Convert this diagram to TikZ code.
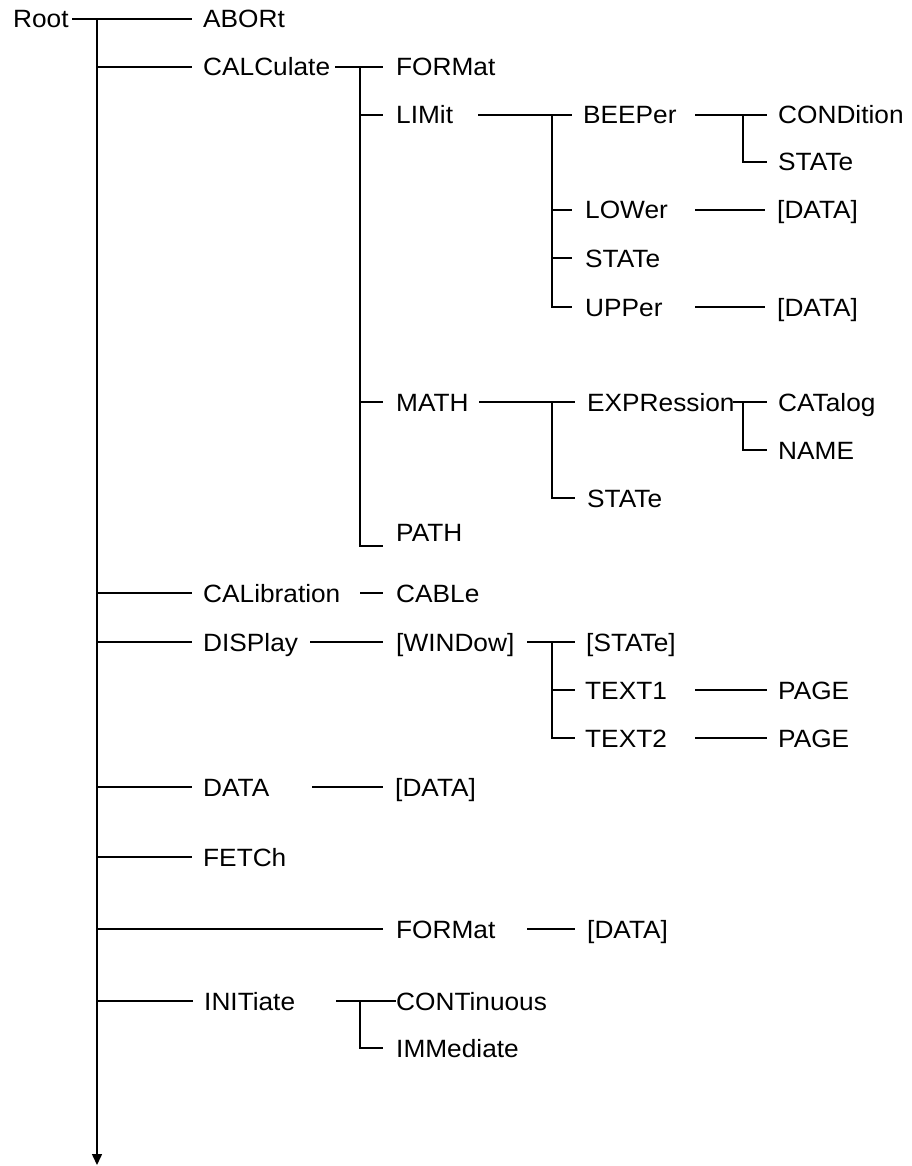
\documentclass[tikz,border=0pt]{standalone}
\usepackage{fontspec}
\setmainfont[FakeStretch=1.05]{Liberation Sans}
\usetikzlibrary{arrows.meta}
\newcommand\lblfont{\fontsize{25}{30}\selectfont}
\begin{document}
\begin{tikzpicture}[x=1pt,y=-1pt,
  lbl/.style={anchor=west,inner sep=0pt,text height=18pt,text depth=0pt,font=\lblfont},
  ln/.style={line width=1.5pt}]
\useasboundingbox (0,0) rectangle (911,1166);
% ---- labels ----
\node[lbl] (root)    at (13,19)   {Root};
\node[lbl] (abort)   at (203,19)  {ABORt};
\node[lbl] (calc)    at (203,67)  {CALCulate};
\node[lbl] (fmt1)    at (396,67)  {FORMat};
\node[lbl] (limit)   at (396,115) {LIMit};
\node[lbl] (beeper)  at (583,115) {BEEPer};
\node[lbl] (cond)    at (778,115) {CONDition};
\node[lbl] (state1)  at (778,162) {STATe};
\node[lbl] (lower)   at (585,210) {LOWer};
\node[lbl] (data1)   at (777,210) {[DATA]};
\node[lbl] (state2)  at (585,258) {STATe};
\node[lbl] (upper)   at (585,307) {UPPer};
\node[lbl] (data2)   at (777,307) {[DATA]};
\node[lbl] (math)    at (396,402) {MATH};
\node[lbl] (expr)    at (587,402) {EXPRession};
\node[lbl] (catalog) at (778,402) {CATalog};
\node[lbl] (name)    at (778,450) {NAME};
\node[lbl] (state3)  at (587,498) {STATe};
\node[lbl] (path)    at (396,532) {PATH};
\node[lbl] (calib)   at (203,593) {CALibration};
\node[lbl] (cable)   at (396,593) {CABLe};
\node[lbl] (disp)    at (203,642) {DISPlay};
\node[lbl] (window)  at (396,642) {[WINDow]};
\node[lbl] (stateb)  at (586,642) {[STATe]};
\node[lbl] (text1)   at (585,690) {TEXT1};
\node[lbl] (page1)   at (778,690) {PAGE};
\node[lbl] (text2)   at (585,738) {TEXT2};
\node[lbl] (page2)   at (778,738) {PAGE};
\node[lbl] (data)    at (203,787) {DATA};
\node[lbl] (data3)   at (395,787) {[DATA]};
\node[lbl] (fetch)   at (203,857) {FETCh};
\node[lbl] (fmt2)    at (396,929) {FORMat};
\node[lbl] (data4)   at (587,929) {[DATA]};
\node[lbl] (init)    at (204,1001) {INITiate};
\node[lbl] (cont)    at (396,1001) {CONTinuous};
\node[lbl] (imm)     at (396,1048) {IMMediate};
% ---- junction coordinates ----
\coordinate (rootOut) at (72,19);
\coordinate (tTop) at (97,19);
\coordinate (tBot) at (97,1165);
\coordinate (calcOut) at (335,67);
\coordinate (cJ) at (360,67);
\coordinate (pathEnd) at (383,546);
\coordinate (limOut) at (478,115);
\coordinate (lJ) at (552,115);
\coordinate (bOut) at (695,115);
\coordinate (bJ) at (743,115);
\coordinate (lowOut) at (695,210);
\coordinate (upOut) at (695,307);
\coordinate (mOut) at (479,402);
\coordinate (mJ) at (552,402);
\coordinate (eOut) at (733,402);
\coordinate (eJ) at (743,402);
\coordinate (calOut) at (360,593);
\coordinate (dOut) at (310,642);
\coordinate (wOut) at (527,642);
\coordinate (wJ) at (552,642);
\coordinate (t1Out) at (695,690);
\coordinate (t2Out) at (695,738);
\coordinate (daOut) at (312,787);
\coordinate (fOut) at (527,929);
\coordinate (iOut) at (336,1001);
\coordinate (iJ) at (360,1001);
% ---- connectors ----
\draw[ln,shorten >=11pt] (rootOut) -- (abort.west);
\draw[ln,-{Triangle[length=11pt,width=10pt]}] (tTop) -- (tBot);
\foreach \n in {calc,calib,disp,data,fetch,init}
  \draw[ln,shorten >=11pt] (tTop |- \n.west) -- (\n.west);
\draw[ln,shorten >=13pt] (tTop |- fmt2.west) -- (fmt2.west);
% CALCulate
\draw[ln,shorten >=13pt] (calcOut) -- (fmt1.west);
\draw[ln] (cJ) |- (pathEnd);
\draw[ln,shorten >=13pt] (cJ |- limit.west) -- (limit.west);
\draw[ln,shorten >=13pt] (cJ |- math.west) -- (math.west);
% LIMit
\draw[ln,shorten >=11pt] (limOut) -- (beeper.west);
\draw[ln,shorten >=13pt] (lJ) |- (upper.west);
\draw[ln,shorten >=13pt] (lJ |- lower.west) -- (lower.west);
\draw[ln,shorten >=13pt] (lJ |- state2.west) -- (state2.west);
% BEEPer
\draw[ln,shorten >=11pt] (bOut) -- (cond.west);
\draw[ln,shorten >=11pt] (bJ) |- (state1.west);
\draw[ln,shorten >=12pt] (lowOut) -- (data1.west);
\draw[ln,shorten >=12pt] (upOut) -- (data2.west);
% MATH
\draw[ln,shorten >=12pt] (mOut) -- (expr.west);
\draw[ln,shorten >=12pt] (mJ) |- (state3.west);
\draw[ln,shorten >=11pt] (eOut) -- (catalog.west);
\draw[ln,shorten >=11pt] (eJ) |- (name.west);
% CALibration, DISPlay
\draw[ln,shorten >=13pt] (calOut) -- (cable.west);
\draw[ln,shorten >=13pt] (dOut) -- (window.west);
\draw[ln,shorten >=11pt] (wOut) -- (stateb.west);
\draw[ln,shorten >=10pt] (wJ) |- (text2.west);
\draw[ln,shorten >=10pt] (wJ |- text1.west) -- (text1.west);
\draw[ln,shorten >=11pt] (t1Out) -- (page1.west);
\draw[ln,shorten >=11pt] (t2Out) -- (page2.west);
% DATA, FORMat, INITiate
\draw[ln,shorten >=12pt] (daOut) -- (data3.west);
\draw[ln,shorten >=12pt] (fOut) -- (data4.west);
\draw[ln] (iOut) -- (cont.west);
\draw[ln,shorten >=13pt] (iJ) |- (imm.west);
\end{tikzpicture}
\end{document}
